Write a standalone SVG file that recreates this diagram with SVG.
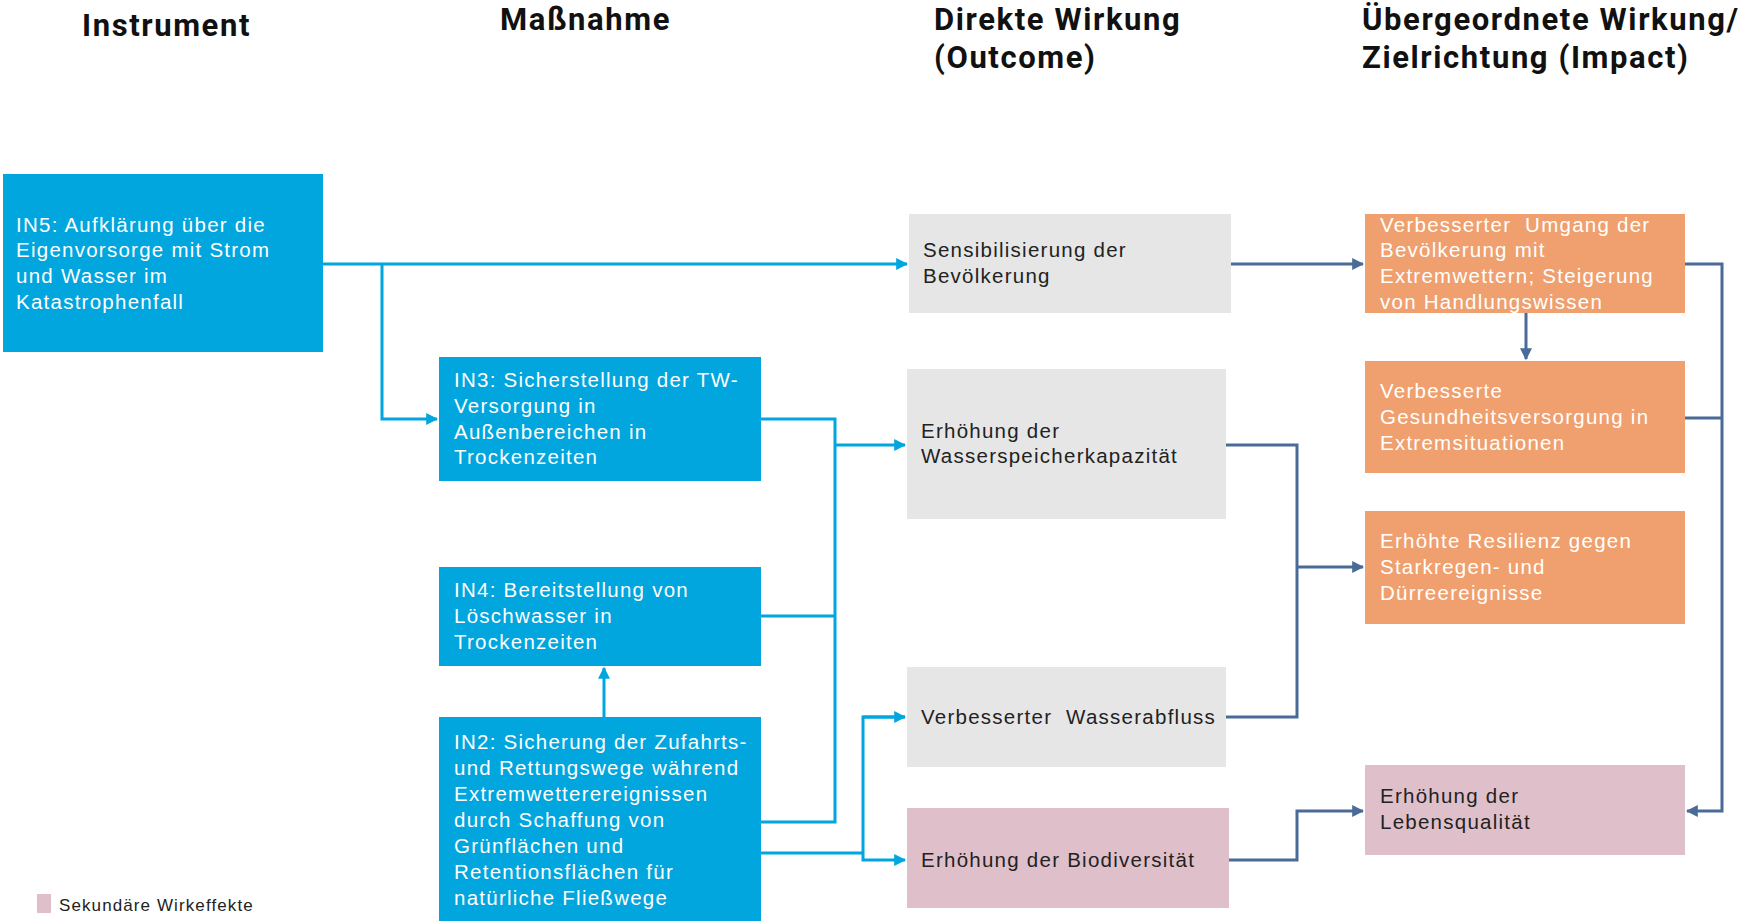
<svg xmlns="http://www.w3.org/2000/svg" width="1753" height="921" viewBox="0 0 1753 921">
  <style>
    .hdr { font-family: Roboto, "Liberation Sans", sans-serif; font-weight: 700; font-size: 31px; letter-spacing: 1.6px; fill: #111; }
    .txt { font-family: "Liberation Sans", Arial, sans-serif; font-size: 20.5px; letter-spacing: 1.25px; }
    .w { fill: #ffffff; }
    .d { fill: #222222; }
    .blue { fill: #00a6dd; }
    .gray { fill: #e6e6e6; }
    .orange { fill: #f0a06e; }
    .pink { fill: #dfc0ca; }
    .cb { fill: none; stroke: #00a6dd; stroke-width: 3; }
    .cd { fill: none; stroke: #4a6a97; stroke-width: 3; }
  </style>
  <defs>
    <marker id="ab" viewBox="0 0 10 10" refX="9" refY="5" markerWidth="4" markerHeight="4" orient="auto" markerUnits="strokeWidth">
      <path d="M0,0 L10,5 L0,10 z" fill="#00a6dd"/>
    </marker>
    <marker id="ad" viewBox="0 0 10 10" refX="9" refY="5" markerWidth="4" markerHeight="4" orient="auto" markerUnits="strokeWidth">
      <path d="M0,0 L10,5 L0,10 z" fill="#4a6a97"/>
    </marker>
  </defs>

  <rect width="1753" height="921" fill="#ffffff"/>

  <!-- column headings -->
  <g id="headings">
    <text class="hdr" x="82" y="36">Instrument</text>
    <text class="hdr" x="500" y="30">Maßnahme</text>
    <text class="hdr" x="934" y="30">Direkte Wirkung</text>
    <text class="hdr" x="934" y="68">(Outcome)</text>
    <text class="hdr" x="1362" y="30">Übergeordnete Wirkung/</text>
    <text class="hdr" x="1362" y="68">Zielrichtung (Impact)</text>
  </g>

  <!-- connectors -->
  <g id="connectors">
    <!-- IN5 -->
    <path class="cb" d="M323,264 H907" marker-end="url(#ab)"/>
    <path class="cb" d="M382,264 V419 H437" marker-end="url(#ab)"/>
    <!-- IN3 / IN4 / IN2 collector -->
    <path class="cb" d="M761,419 H835 V822 H761"/>
    <path class="cb" d="M761,616 H835"/>
    <path class="cb" d="M835,445 H905" marker-end="url(#ab)"/>
    <!-- IN2 to IN4 -->
    <path class="cb" d="M604,717 V668" marker-end="url(#ab)"/>
    <!-- IN2 to outcomes -->
    <path class="cb" d="M761,853 H863"/>
    <path class="cb" d="M905,717 H863 V860 H905" marker-end="url(#ab)"/>
    <path class="cb" d="M863,717 H905" marker-end="url(#ab)"/>
    <!-- outcome to impact -->
    <path class="cd" d="M1231,264 H1363" marker-end="url(#ad)"/>
    <path class="cd" d="M1526,313 V359" marker-end="url(#ad)"/>
    <path class="cd" d="M1685,264 H1722 V811 H1687" marker-end="url(#ad)"/>
    <path class="cd" d="M1685,418 H1722"/>
    <path class="cd" d="M1226,445 H1297 V717 H1226"/>
    <path class="cd" d="M1297,567 H1363" marker-end="url(#ad)"/>
    <path class="cd" d="M1229,860 H1297 V811 H1363" marker-end="url(#ad)"/>
  </g>

  <!-- instrument column -->
  <g id="in5">
    <rect class="blue" x="3" y="174" width="320" height="178"/>
    <text class="txt w" x="16" y="232">IN5: Aufklärung über die</text>
    <text class="txt w" x="16" y="257">Eigenvorsorge mit Strom</text>
    <text class="txt w" x="16" y="283">und Wasser im</text>
    <text class="txt w" x="16" y="309">Katastrophenfall</text>
  </g>

  <!-- measures -->
  <g id="in3">
    <rect class="blue" x="439" y="357" width="322" height="124"/>
    <text class="txt w" x="454" y="387">IN3: Sicherstellung der TW-</text>
    <text class="txt w" x="454" y="413">Versorgung in</text>
    <text class="txt w" x="454" y="439">Außenbereichen in</text>
    <text class="txt w" x="454" y="464">Trockenzeiten</text>
  </g>
  <g id="in4">
    <rect class="blue" x="439" y="567" width="322" height="99"/>
    <text class="txt w" x="454" y="597">IN4: Bereitstellung von</text>
    <text class="txt w" x="454" y="623">Löschwasser in</text>
    <text class="txt w" x="454" y="649">Trockenzeiten</text>
  </g>
  <g id="in2">
    <rect class="blue" x="439" y="717" width="322" height="204"/>
    <text class="txt w" x="454" y="749">IN2: Sicherung der Zufahrts-</text>
    <text class="txt w" x="454" y="775">und Rettungswege während</text>
    <text class="txt w" x="454" y="801">Extremwetterereignissen</text>
    <text class="txt w" x="454" y="827">durch Schaffung von</text>
    <text class="txt w" x="454" y="853">Grünflächen und</text>
    <text class="txt w" x="454" y="879">Retentionsflächen für</text>
    <text class="txt w" x="454" y="905">natürliche Fließwege</text>
  </g>

  <!-- outcomes -->
  <g id="sensibilisierung">
    <rect class="gray" x="909" y="214" width="322" height="99"/>
    <text class="txt d" x="923" y="257">Sensibilisierung der</text>
    <text class="txt d" x="923" y="283">Bevölkerung</text>
  </g>
  <g id="wasserspeicher">
    <rect class="gray" x="907" y="369" width="319" height="150"/>
    <text class="txt d" x="921" y="438">Erhöhung der</text>
    <text class="txt d" x="921" y="463">Wasserspeicherkapazität</text>
  </g>
  <g id="wasserabfluss">
    <rect class="gray" x="907" y="667" width="319" height="100"/>
    <text class="txt d" x="921" y="724" xml:space="preserve">Verbesserter  Wasserabfluss</text>
  </g>
  <g id="biodiversitaet">
    <rect class="pink" x="907" y="808" width="322" height="100"/>
    <text class="txt d" x="921" y="867">Erhöhung der Biodiversität</text>
  </g>

  <!-- impacts -->
  <g id="umgang">
    <rect class="orange" x="1365" y="214" width="320" height="99"/>
    <text class="txt w" x="1380" y="232" xml:space="preserve">Verbesserter  Umgang der</text>
    <text class="txt w" x="1380" y="257">Bevölkerung mit</text>
    <text class="txt w" x="1380" y="283">Extremwettern; Steigerung</text>
    <text class="txt w" x="1380" y="309">von Handlungswissen</text>
  </g>
  <g id="gesundheit">
    <rect class="orange" x="1365" y="361" width="320" height="112"/>
    <text class="txt w" x="1380" y="398">Verbesserte</text>
    <text class="txt w" x="1380" y="424">Gesundheitsversorgung in</text>
    <text class="txt w" x="1380" y="450">Extremsituationen</text>
  </g>
  <g id="resilienz">
    <rect class="orange" x="1365" y="511" width="320" height="113"/>
    <text class="txt w" x="1380" y="548">Erhöhte Resilienz gegen</text>
    <text class="txt w" x="1380" y="574">Starkregen- und</text>
    <text class="txt w" x="1380" y="600">Dürreereignisse</text>
  </g>
  <g id="lebensqualitaet">
    <rect class="pink" x="1365" y="765" width="320" height="90"/>
    <text class="txt d" x="1380" y="803">Erhöhung der</text>
    <text class="txt d" x="1380" y="829">Lebensqualität</text>
  </g>

  <!-- legend -->
  <g id="legend">
    <rect class="pink" x="37" y="894" width="14" height="19"/>
    <text class="txt d" x="59" y="911" style="font-size:17px;letter-spacing:1.1px">Sekundäre Wirkeffekte</text>
  </g>
</svg>
